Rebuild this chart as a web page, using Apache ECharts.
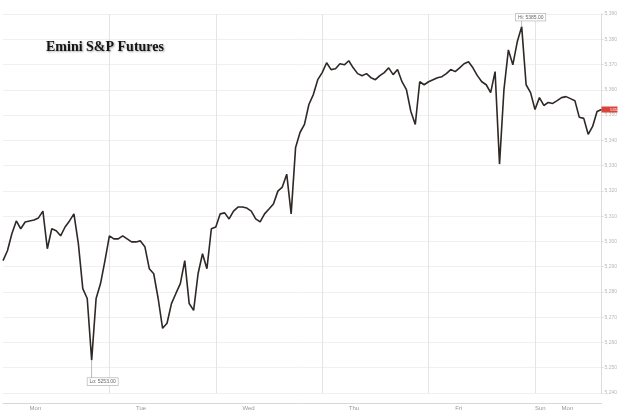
<!DOCTYPE html>
<html>
<head>
<meta charset="utf-8">
<script src="https://cdn.jsdelivr.net/npm/echarts@6/dist/echarts.min.js"></script>
<style>
html,body{margin:0;padding:0;background:#fff;}
#chart{width:620px;height:411px;}
</style>
</head>
<body>
<div id="chart"></div>
<script>
// hourly closes, session start Sun 18:00
const prices = [
5292.4,5296.3,5303.0,5308.1,5305.0,5307.7,5308.1,5308.5,5309.3,5312.0,
5297.1,5305.0,5304.2,5302.2,5305.7,5308.1,5310.9,5299.1,5281.3,5277.4,
5253.0,5277.4,5283.3,5292.4,5302.2,5301.0,5301.0,5302.2,5301.0,5299.8,
5299.8,5300.2,5297.9,5289.2,5287.2,5277.4,5265.6,5267.6,5275.4,5279.4,
5283.3,5292.4,5275.4,5272.7,5287.2,5295.1,5289.2,5305.0,5305.7,5310.9,
5311.3,5308.9,5312.0,5313.6,5313.6,5313.2,5312.0,5308.9,5307.7,5310.9,
5312.8,5314.8,5319.9,5321.5,5326.6,5310.9,5337.2,5343.1,5346.3,5354.2,
5358.1,5364.0,5366.8,5370.7,5368.0,5368.3,5370.3,5369.9,5371.5,5368.7,
5366.4,5365.6,5366.4,5364.8,5364.0,5365.6,5366.8,5368.7,5366.0,5368.0,
5363.2,5360.1,5351.4,5346.3,5363.2,5362.0,5363.2,5364.0,5364.8,5365.2,
5366.4,5368.0,5367.2,5368.7,5370.3,5371.1,5368.7,5365.6,5363.2,5362.0,
5358.9,5367.2,5330.6,5360.1,5375.8,5369.9,5379.0,5385.0,5362.0,5358.9,
5352.2,5356.9,5353.8,5355.0,5354.6,5355.7,5356.9,5357.3,5356.5,5355.7,
5349.1,5348.7,5342.4,5345.5,5351.4,5352.2
];
const dayNames = ['Sun','Mon','Tue','Wed','Thu','Fri'];
const tickIndex = [6,30,54,78,102,120,126];
const tickText = ['Mon','Tue','Wed','Thu','Fri','Sun','Mon'];
const dividers = [24,48,72,96,120];
const yMin = 5240, yMax = 5390, yStep = 10;
const titleText = 'Emini S&P Futures';

const categories = prices.map((_, i) => {
  if (i >= 120) { const h = 18 + (i - 120); return (h < 24 ? 'Sun ' : 'Mon ') + String(h % 24).padStart(2,'0') + ':00'; }
  const t = 18 + i; return dayNames[Math.floor(t / 24)] + ' ' + String(t % 24).padStart(2,'0') + ':00';
});

let hiIdx = 0, loIdx = 0;
prices.forEach((v, i) => { if (v > prices[hiIdx]) hiIdx = i; if (v < prices[loIdx]) loIdx = i; });
const lastIdx = prices.length - 1;

const chart = echarts.init(document.getElementById('chart'), null, {renderer:'canvas'});
chart.setOption({
  animation: false,
  backgroundColor: '#fff',
  title: {
    text: titleText, left: 41, top: 35,
    textStyle: { fontFamily: 'Liberation Serif', fontWeight: 'bold', fontSize: 14, color: '#151515',
      textShadowColor: 'rgba(0,0,0,0.35)', textShadowBlur: 2, textShadowOffsetX: 1, textShadowOffsetY: 1 }
  },
  grid: { left: 0, right: 18, top: 14, bottom: 16 },
  xAxis: {
    type: 'category', data: categories, boundaryGap: false, offset: 10,
    axisLine: { lineStyle: { color: '#d8d8d8', width: 1 } },
    axisTick: { show: false },
    axisLabel: {
      interval: 0, margin: 2, fontSize: 6, color: '#999', align: 'left', fontFamily: 'Liberation Sans',
      formatter: (v, i) => { const k = tickIndex.indexOf(i); return k >= 0 ? tickText[k] : ''; }
    },
    splitLine: { show: true, interval: (i) => dividers.includes(i), lineStyle: { color: '#e4e4e4', width: 1 } }
  },
  yAxis: {
    type: 'value', position: 'right', min: yMin, max: yMax, interval: yStep,
    axisLine: { show: true, lineStyle: { color: '#dcdcdc' } },
    axisTick: { show: true, length: 2, lineStyle: { color: '#ddd' } },
    axisLabel: { fontSize: 5, color: '#b8b8b8', margin: 3, fontFamily: 'Liberation Sans' },
    splitLine: { lineStyle: { color: '#f0f0f0', width: 1 } }
  },
  series: [{
    type: 'line', data: prices, symbol: 'none', clip: false,
    lineStyle: { color: '#2e2826', width: 1.6 },
    markPoint: {
      silent: true,
      data: [
        { coord: [hiIdx, prices[hiIdx]], symbol: 'rect', symbolSize: [0.8, 6], symbolOffset: [0, -3],
          itemStyle: { color: '#aaa' },
          label: { show: true, position: 'top', distance: 0, offset: [9, 0], formatter: 'Hi: ' + prices[hiIdx].toFixed(2),
            fontSize: 5, color: '#666', backgroundColor: '#fff', borderColor: '#aaa', borderWidth: 0.6, padding: [1, 2] } },
        { coord: [loIdx, prices[loIdx]], symbol: 'rect', symbolSize: [0.8, 18], symbolOffset: [0, 9],
          itemStyle: { color: '#aaa' },
          label: { show: true, position: 'bottom', distance: 0, offset: [11, 0], formatter: 'Lo: ' + prices[loIdx].toFixed(2),
            fontSize: 5, color: '#666', backgroundColor: '#fff', borderColor: '#aaa', borderWidth: 0.6, padding: [1, 2] } },
        { coord: [lastIdx, prices[lastIdx]], symbol: 'rect', symbolSize: [16, 6], symbolOffset: [8, 0],
          itemStyle: { color: '#d9443c' },
          label: { show: true, position: 'inside', offset: [8, 0], formatter: prices[lastIdx].toFixed(2),
            fontSize: 4, color: '#fff' } }
      ]
    }
  }]
});
</script>
</body>
</html>
